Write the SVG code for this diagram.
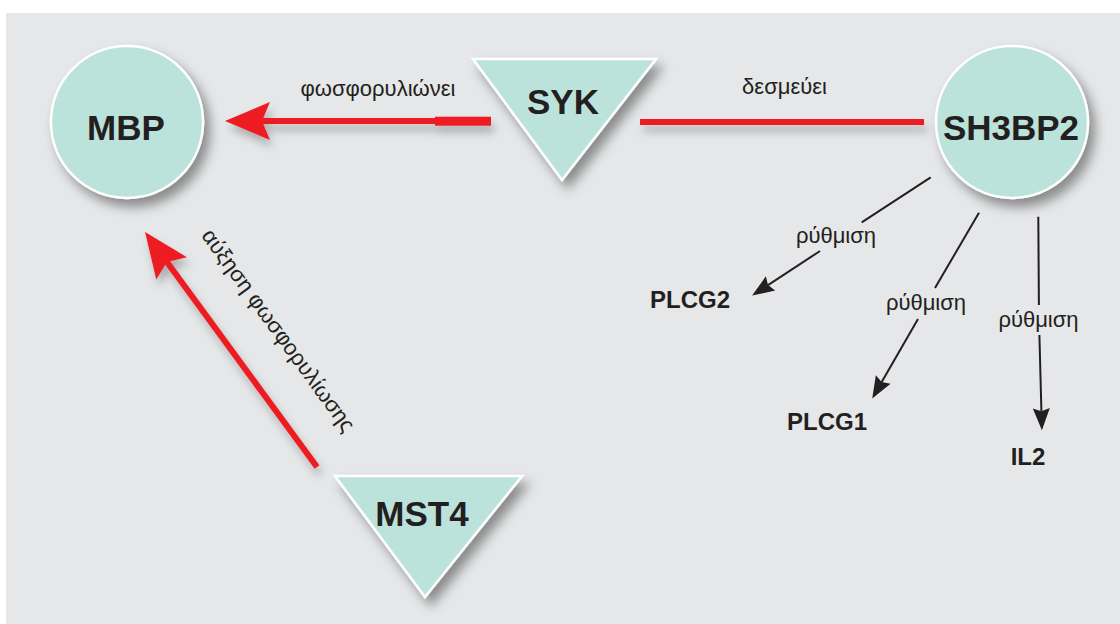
<svg xmlns="http://www.w3.org/2000/svg" width="1120" height="624" viewBox="0 0 1120 624">
  <defs>
    <style>
      .node { fill: #bce2dc; stroke: #ffffff; stroke-width: 2.5; }
      .big { font-family: "Liberation Sans", Arial, sans-serif; font-weight: bold; font-size: 35px; fill: #231f20; text-anchor: middle; }
      .small { font-family: "Liberation Sans", Arial, sans-serif; font-weight: bold; font-size: 24px; fill: #231f20; text-anchor: middle; }
      .lbl { font-family: "Liberation Sans", Arial, sans-serif; font-size: 22px; fill: #231f20; text-anchor: middle; }
      .red { stroke: #ed1c24; stroke-width: 6; fill: none; }
      .blk { stroke: #231f20; stroke-width: 2; fill: none; }
    </style>
    <filter id="shadow" x="-30%" y="-30%" width="170%" height="170%">
      <feDropShadow dx="6" dy="8" stdDeviation="6" flood-color="#000" flood-opacity="0.4"/>
    </filter>
    <filter id="lshadow" x="-20%" y="-50%" width="140%" height="300%">
      <feDropShadow dx="3" dy="7" stdDeviation="4" flood-color="#000" flood-opacity="0.25"/>
    </filter>
    <marker id="redhead" markerUnits="userSpaceOnUse" orient="auto" refX="0" refY="0" markerWidth="60" markerHeight="60" overflow="visible">
      <path d="M37,0 L-8,-19 L0,0 L-8,19 Z" fill="#ed1c24"/>
    </marker>
    <marker id="blkhead" markerUnits="userSpaceOnUse" orient="auto" refX="0" refY="0" markerWidth="40" markerHeight="40" overflow="visible">
      <path d="M19,0 L-3,-8.5 L0,0 L-3,8.5 Z" fill="#231f20"/>
    </marker>
  </defs>

  <rect x="0" y="0" width="1120" height="624" fill="#ffffff"/>
  <rect x="6" y="13" width="1114" height="611" fill="#e6e7e8"/>

  <g id="connectors">
    <g filter="url(#lshadow)">
      <line class="red" x1="491" y1="121" x2="262" y2="121" marker-end="url(#redhead)"/>
      <rect x="435" y="116.7" width="56" height="9" fill="#ed1c24"/>
      <line class="red" x1="640" y1="122" x2="924" y2="122"/>
      <line class="red" x1="317" y1="467" x2="166.9" y2="261.9" stroke-width="5.5" marker-end="url(#redhead)"/>
    </g>
    <text class="lbl" x="378" y="96">φωσφορυλιώνει</text>
    <text class="lbl" x="784.5" y="94">δεσμεύει</text>
    <text class="lbl" transform="translate(272.5,334.7) rotate(54)" x="0" y="0">αύξηση φωσφορυλίωσης</text>

    <line class="blk" x1="930.7" y1="177.3" x2="861.7" y2="222.3"/>
    <line class="blk" x1="820" y1="251" x2="768" y2="285.1" marker-end="url(#blkhead)"/>
    <text class="lbl" x="836" y="243">ρύθμιση</text>

    <line class="blk" x1="979" y1="212.7" x2="935" y2="288"/>
    <line class="blk" x1="918" y1="319" x2="881.7" y2="382.1" marker-end="url(#blkhead)"/>
    <text class="lbl" x="926" y="310">ρύθμιση</text>

    <line class="blk" x1="1038.3" y1="216.7" x2="1038.9" y2="305"/>
    <line class="blk" x1="1039.4" y1="335" x2="1041.4" y2="411.3" marker-end="url(#blkhead)"/>
    <text class="lbl" x="1038.5" y="327">ρύθμιση</text>
  </g>

  <g id="MBP">
    <circle class="node" cx="127" cy="122" r="76" filter="url(#shadow)"/>
    <text class="big" x="126" y="140">MBP</text>
  </g>
  <g id="SYK">
    <polygon class="node" points="473,59 656,59 562,180" filter="url(#shadow)"/>
    <text class="big" x="563" y="114">SYK</text>
  </g>
  <g id="SH3BP2">
    <circle class="node" cx="1012" cy="122" r="76" filter="url(#shadow)"/>
    <text class="big" x="1011" y="140" textLength="136" lengthAdjust="spacingAndGlyphs">SH3BP2</text>
  </g>
  <g id="MST4">
    <polygon class="node" points="335,476 522,476 425,597" filter="url(#shadow)"/>
    <text class="big" x="422" y="526">MST4</text>
  </g>
  <g id="PLCG2">
    <text class="small" x="690" y="308">PLCG2</text>
  </g>
  <g id="PLCG1">
    <text class="small" x="827" y="430">PLCG1</text>
  </g>
  <g id="IL2">
    <text class="small" x="1028" y="465">IL2</text>
  </g>
</svg>
